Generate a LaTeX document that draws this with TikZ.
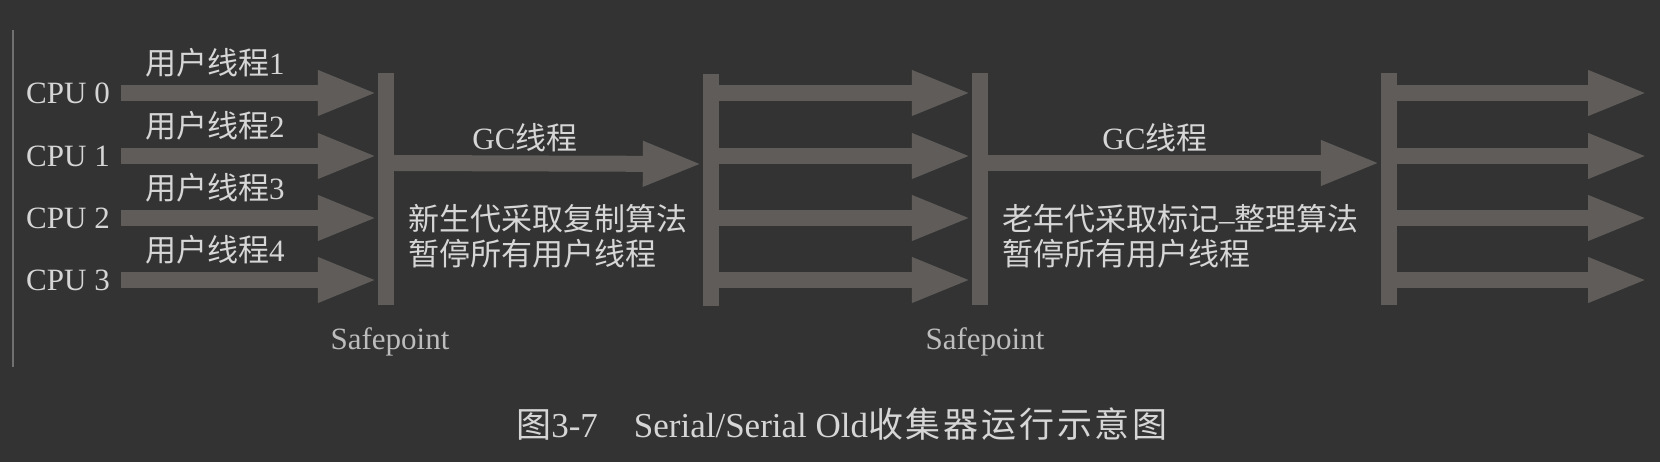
\documentclass[tikz,border=0pt]{standalone}
\usepackage{fontspec}
\setmainfont{Liberation Serif}
\newfontfamily\zhfont{Noto Sans CJK SC}
\newfontfamily\zhcapfont[LetterSpace=8]{Noto Sans CJK SC}
\newcommand{\zh}[1]{{\zhfont #1}}
\usetikzlibrary{arrows.meta,positioning}
\definecolor{bgcol}{HTML}{333333}
\definecolor{barcol}{HTML}{5F5C5A}
\definecolor{txtcol}{HTML}{D6D6D6}
\definecolor{safecol}{HTML}{BDBDBD}
\definecolor{edgecol}{HTML}{707070}
\tikzset{
  fat/.style={barcol, line width=16pt, -{Triangle[length=60pt,width=41pt]}},
  bar/.style={fill=barcol, inner sep=0pt, minimum width=16pt, minimum height=232pt},
  lbl/.style={text=txtcol, font=\fontsize{31}{35}\selectfont, inner sep=0pt},
}
\begin{document}
\begin{tikzpicture}[x=1pt, y=-1pt]
  % fondo
  \fill[bgcol] (0,0) rectangle (1660,462);
  \useasboundingbox (0,0) rectangle (1660,462);
  \draw[edgecol, line width=1.5pt] (13,30) -- (13,367);
  % safepoints
  \node[bar] (sp1) at (386,189) {};
  \node[bar] (sp2) at (711,190) {};
  \node[bar] (sp3) at (980,189) {};
  \node[bar] (sp4) at (1389,189) {};
  % hilos de usuario
  \foreach \i/\n/\y in {0/1/93, 1/2/156, 2/3/218, 3/4/280} {
    \node[lbl, anchor=east] (cpu\i) at (110,\y) {CPU \i};
    \node[lbl, anchor=west] (ut\n) at (145,\y-30) {\zh{用户线程}\n};
    \coordinate (end\i) at (1648,\y);
    \draw[fat] ([xshift=11pt]cpu\i.east) -- (sp1.west |- cpu\i);
    \draw[fat] (sp2.east |- cpu\i) -- (sp3.west |- cpu\i);
    \draw[fat] (sp4.east |- cpu\i) -- (end\i);
  }
  % hilos GC
  \draw[fat] ([yshift=26pt]sp1.east) -- ([yshift=26pt]sp2.west);
  \draw[fat] ([yshift=26pt]sp3.east) -- ([yshift=26pt]sp4.west);
  \node[lbl] (gc1) at (525,138) {GC\zh{线程}};
  \node[lbl] (gc2) at (1155,138) {GC\zh{线程}};
  \node[lbl, anchor=west, align=left] (note1) at (408,236)
    {\zh{新生代采取复制算法}\\\zh{暂停所有用户线程}};
  \node[lbl, anchor=west, align=left] (note2) at (1002,236)
    {\zh{老年代采取标记}--\zh{整理算法}\\\zh{暂停所有用户线程}};
  \node[lbl, text=safecol, below=22pt of sp1, xshift=4pt] (sf1) {Safepoint};
  \node[lbl, text=safecol, below=22pt of sp3, xshift=5pt] (sf2) {Safepoint};
  % pie de figura
  \node[lbl, font=\fontsize{35}{40}\selectfont] (cap) at (842,424)
    {\zh{图}3-7\hspace{36pt}Serial/Serial Old{\zhcapfont 收集器运行示意图}};
\end{tikzpicture}
\end{document}
